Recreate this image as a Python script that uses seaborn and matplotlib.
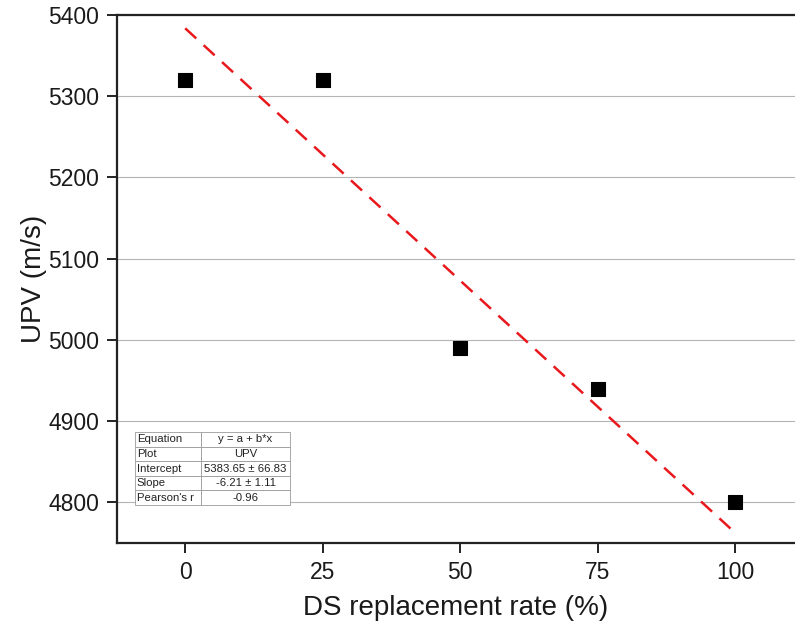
import matplotlib
matplotlib.use("Agg")
import matplotlib.pyplot as plt
import numpy as np
import pandas as pd
import seaborn as sns

# data
rate = [0, 25, 50, 75, 100]
upv = [5320, 5320, 4990, 4940, 4800]

# linear fit as reported in the table
intercept = 5383.65
intercept_err = 66.83
slope = -6.21
slope_err = 1.11
pearson_r = -0.96

sns.set_theme(style="white")
plt.rcParams["font.family"] = ["Liberation Sans", "DejaVu Sans"]

df = pd.DataFrame({"rate": rate, "UPV": upv})
fit_x = np.array([min(rate), max(rate)])
fit = pd.DataFrame({"rate": fit_x, "UPV": intercept + slope * fit_x})

fig = plt.figure(figsize=(7.95, 6.29), dpi=100)
ax = fig.add_axes([117 / 795, 86 / 629, 1 - 117 / 795, 528 / 629])

sns.lineplot(x="rate", y="UPV", data=fit, ax=ax, color="#e8181c",
             linewidth=1.8, dashes=False, zorder=2)
ax.lines[0].set_dashes([6, 4])
sns.scatterplot(x="rate", y="UPV", data=df, ax=ax, marker="s", s=95,
                color="black", edgecolor="black", zorder=3)

ax.set_xlim(-12.4, 110.9)
ax.set_ylim(4750, 5400)
ax.set_xticks([0, 25, 50, 75, 100])
ax.set_yticks([4800, 4900, 5000, 5100, 5200, 5300, 5400])
ax.yaxis.grid(True, color="#b5b5b5", linewidth=0.8)
ax.xaxis.grid(False)
ax.set_axisbelow(True)

for side in ["left", "bottom", "top"]:
    ax.spines[side].set_color("#222222")
    ax.spines[side].set_linewidth(1.6)
ax.spines["right"].set_visible(False)

ax.tick_params(axis="both", direction="out", length=7, width=1.4,
               color="#222222", labelsize=16.5, pad=6, labelcolor="#1a1a1a")
ax.tick_params(axis="x", bottom=True, pad=6)
ax.tick_params(axis="y", left=True)

ax.set_xlabel("DS replacement rate (%)", fontsize=20, labelpad=8, color="#1a1a1a")
ax.set_ylabel("UPV (m/s)", fontsize=20, labelpad=1, color="#1a1a1a")

cells = [
    ["Equation", "y = a + b*x"],
    ["Plot", "UPV"],
    ["Intercept", f"{intercept:.2f} \u00b1 {intercept_err:.2f}"],
    ["Slope", f"{slope:.2f} \u00b1 {slope_err:.2f}"],
    ["Pearson's r", f"{pearson_r:.2f}"],
]
tbl = ax.table(cellText=cells, bbox=[18 / 678, 38 / 528, 155 / 678, 73 / 528],
               colWidths=[66, 89], zorder=4)
tbl.auto_set_font_size(False)
for (r, c), cell in tbl.get_celld().items():
    cell.set_edgecolor("#9a9a9a")
    cell.set_linewidth(0.6)
    cell.set_facecolor("white")
    cell.get_text().set_fontsize(8.2)
    cell.get_text().set_color("#222222")
    if c == 0:
        cell.get_text().set_ha("left")
        cell.PAD = 0.03
    else:
        cell.get_text().set_ha("center")

fig.savefig("out.png", dpi=100)
